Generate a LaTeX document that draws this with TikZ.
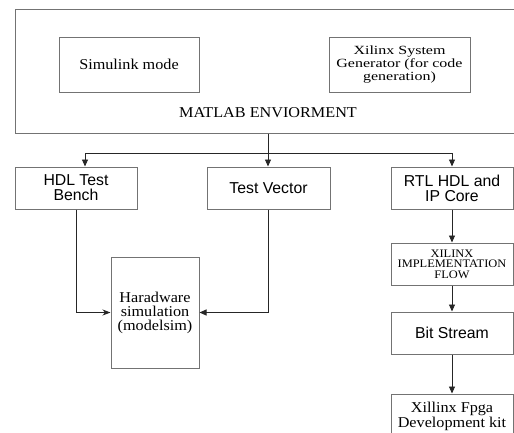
\documentclass[tikz,border=0pt]{standalone}
\usepackage{fontspec}
\setmainfont{Liberation Serif}
\newfontfamily\serA[FakeStretch=1.08]{Liberation Serif}
\newfontfamily\serB[FakeStretch=1.28]{Liberation Serif}
\newfontfamily\sansL{Liberation Sans}
\usetikzlibrary{arrows.meta}
\begin{document}
\begin{tikzpicture}[x=1pt,y=-1pt,
  box/.style={draw=black!55,line width=1pt,fill=white,inner sep=0pt,align=center,anchor=center},
  conn/.style={draw=black!85,line width=0.9pt},
  arr/.style={conn,-{Triangle[length=7pt,width=6pt]}},
  arrs/.style={conn,-{Stealth[length=8pt,width=6pt,inset=2.5pt]}}]
\useasboundingbox (0,0) rectangle (514,432);
\begin{scope}
\clip (0,0) rectangle (514,432);
\node[box,minimum width=501pt,minimum height=124pt] (matlab) at (265.5,71) {};
\node[box,minimum width=140pt,minimum height=55pt,font=\serA\fontsize{15}{15}\selectfont] (sim) at (129,64.5) {Simulink mode};
\node[box,minimum width=141pt,minimum height=55pt,font=\serB\fontsize{12.5}{13}\selectfont] (xsg) at (399.5,64.5) {Xilinx System\\Generator (for code\\generation)};
\node[font=\serA\fontsize{15}{15}\selectfont,inner sep=0pt] (mlabel) at (268,113) {MATLAB ENVIORMENT};

\node[box,minimum width=122pt,minimum height=42pt,font=\sansL\fontsize{15.8}{15}\selectfont] (hdl) at (76,188) {HDL Test\\Bench};
\node[box,minimum width=123pt,minimum height=42pt,font=\sansL\fontsize{15.8}{15}\selectfont] (tv) at (268.5,188) {Test Vector};
\node[box,minimum width=122pt,minimum height=42pt,font=\sansL\fontsize{15.8}{15}\selectfont] (rtl) at (452,188) {RTL HDL and\\IP Core};

\node[box,minimum width=88pt,minimum height=111pt,font=\serA\fontsize{15}{14}\selectfont] (hw) at (155,312.5) {Haradware\\simulation\\(modelsim)};

\node[box,minimum width=122pt,minimum height=42pt,font=\serA\fontsize{11.5}{10.5}\selectfont] (xif) at (452,264) {XILINX\\IMPLEMENTATION\\FLOW};
\node[box,minimum width=122pt,minimum height=42pt,font=\sansL\fontsize{15.8}{15}\selectfont] (bs) at (452,333) {Bit Stream};
\node[box,minimum width=122pt,minimum height=42pt,font=\serA\fontsize{15}{13.5}\selectfont,text depth=0pt] (fpga) at (452,415) {Xillinx Fpga\\Development kit};

\coordinate (j) at (268,153);
\draw[conn] (matlab.south -| j) -- (j);
\draw[arr] (j) -- (j |- tv.north);
\draw[arr] (j) -| ([xshift=9pt]hdl.north);
\draw[arr] (j) -| (rtl.north);
\draw[arrs] (hdl.south) |- (hw.west);
\draw[arr] (tv.south) |- (hw.east);
\draw[arr] (rtl.south) -- (xif.north);
\draw[arr] (xif.south) -- (bs.north);
\draw[arr] (bs.south) -- (fpga.north);
\end{scope}
\end{tikzpicture}
\end{document}
